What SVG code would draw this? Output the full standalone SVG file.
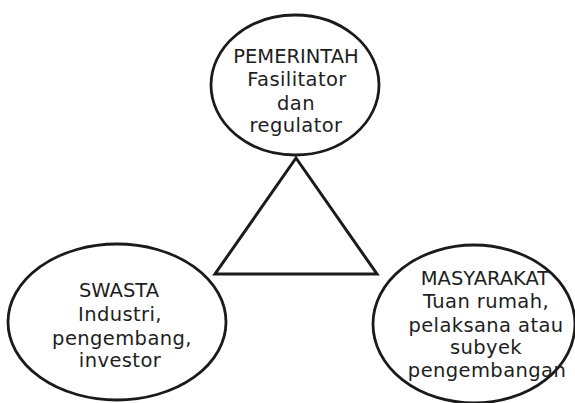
<svg xmlns="http://www.w3.org/2000/svg" width="575" height="403" viewBox="0 0 575 403">
<style>
.node ellipse{fill:#fff;stroke:#1a1a1a;stroke-width:2.8}
.lbl{font-family:"DejaVu Sans","Liberation Sans",sans-serif;font-size:19.5px;fill:#1e1e1e;text-anchor:middle;letter-spacing:0.4px}
.cap{letter-spacing:0}
</style>
<rect width="575" height="403" fill="#fff"/>
<g id="connectors">
<polygon points="296,158 215,274 377,274" fill="none" stroke="#1a1a1a" stroke-width="3" stroke-linejoin="miter"/>
</g>
<g id="pemerintah" class="node">
<ellipse cx="295" cy="85" rx="84" ry="70"/>
<text class="lbl cap" x="296" y="63">PEMERINTAH</text>
<text class="lbl" x="297" y="86">Fasilitator</text>
<text class="lbl" x="296" y="110">dan</text>
<text class="lbl" x="296" y="132">regulator</text>
</g>
<g id="swasta" class="node">
<ellipse cx="117" cy="322" rx="109" ry="78"/>
<text class="lbl cap" x="119" y="297">SWASTA</text>
<text class="lbl" x="120" y="321">Industri,</text>
<text class="lbl" x="122" y="345">pengembang,</text>
<text class="lbl" x="120" y="367">investor</text>
</g>
<g id="masyarakat" class="node">
<ellipse cx="474" cy="324" rx="101" ry="79"/>
<text class="lbl cap" x="485" y="285">MASYARAKAT</text>
<text class="lbl" x="486" y="308">Tuan rumah,</text>
<text class="lbl" x="486" y="332">pelaksana atau</text>
<text class="lbl" x="486" y="354">subyek</text>
<text class="lbl" x="487" y="377">pengembangan</text>
</g>
</svg>
